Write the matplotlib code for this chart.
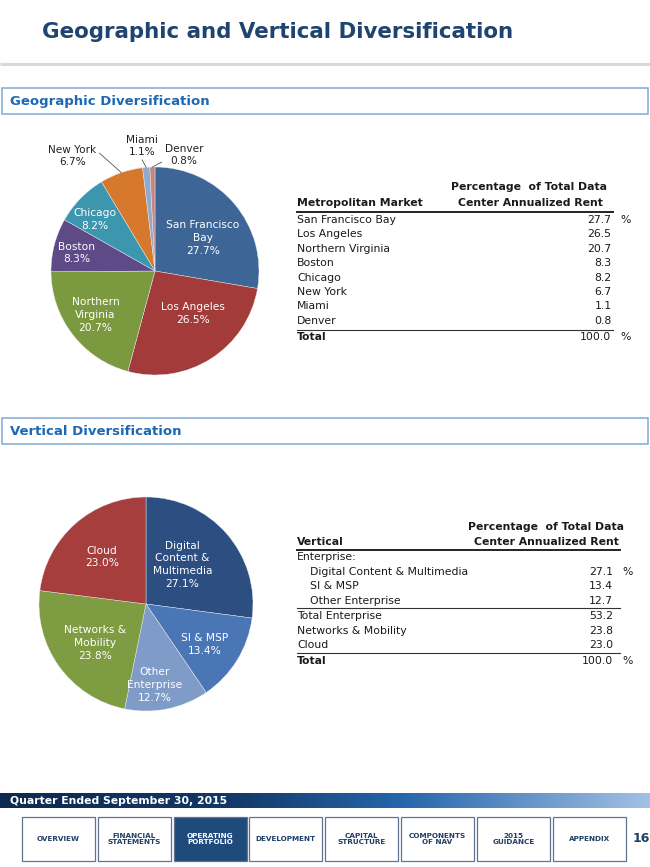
import numpy as np
import matplotlib
matplotlib.use("Agg")
import matplotlib.pyplot as plt
from matplotlib.patches import Rectangle
from matplotlib.colors import LinearSegmentedColormap

# Geographic split (% of total data center annualized rent)
markets = ["San Francisco Bay", "Los Angeles", "Northern Virginia", "Boston",
           "Chicago", "New York", "Miami", "Denver"]
market_pct = [27.7, 26.5, 20.7, 8.3, 8.2, 6.7, 1.1, 0.8]
market_total = 100.0
market_pie_labels = ["San Francisco\nBay", "Los Angeles", "Northern\nVirginia", "Boston",
                     "Chicago", "New York", "Miami", "Denver"]

# Vertical split
verticals = ["Digital Content & Multimedia", "SI & MSP", "Other Enterprise",
             "Networks & Mobility", "Cloud"]
vertical_pct = [27.1, 13.4, 12.7, 23.8, 23.0]
vertical_pie_labels = ["Digital\nContent &\nMultimedia", "SI & MSP", "Other\nEnterprise",
                       "Networks &\nMobility", "Cloud"]
enterprise_total = 53.2
vertical_total = 100.0

nav_items = ["OVERVIEW", "FINANCIAL\nSTATEMENTS", "OPERATING\nPORTFOLIO", "DEVELOPMENT",
             "CAPITAL\nSTRUCTURE", "COMPONENTS\nOF NAV", "2015\nGUIDANCE", "APPENDIX"]

W, H = 650, 867
NAVY = "#1F4470"
SECTION_BLUE = "#1C68B5"
TXT = "#1A1A1A"

fig = plt.figure(figsize=(W / 100, H / 100), dpi=100)
bg = fig.add_axes([0, 0, 1, 1])
bg.axis("off")


def draw_pie(cx, cy, r, values, labels, colors, label_r, label_da, outside=None):
    # pie placed by pixel centre / radius, labels placed off the wedge angles
    outside = outside or {}
    half = 1.5 * r
    ax = fig.add_axes([(cx - half) / W, (H - cy - half) / H, 2 * half / W, 2 * half / H])
    wedges, _ = ax.pie(values, colors=colors, startangle=90, counterclock=False,
                       wedgeprops=dict(edgecolor="#E8ECF2", linewidth=0.3))
    ax.set_xlim(-1.5, 1.5)
    ax.set_ylim(-1.5, 1.5)
    ax.set_aspect("equal")
    ax.axis("off")
    ax.patch.set_visible(False)
    for i, (w, lab, v) in enumerate(zip(wedges, labels, values)):
        mid = np.deg2rad((w.theta1 + w.theta2) / 2)
        ang = mid + np.deg2rad(label_da[i])
        tx, ty = label_r[i] * np.cos(ang), label_r[i] * np.sin(ang)
        txt = f"{lab}\n{v:.1f}%"
        if i in outside:
            ax.annotate(txt, xy=(np.cos(mid), np.sin(mid)), xytext=(tx, ty),
                        ha="center", va="center", fontsize=7.6, color="#222222",
                        linespacing=1.3,
                        arrowprops=dict(arrowstyle="-", color="#555555", lw=0.6,
                                        relpos=outside[i], shrinkA=0, shrinkB=0))
        else:
            ax.text(tx, ty, txt, ha="center", va="center", color="white",
                    fontsize=7.7, linespacing=1.35)
    return ax


# ---- header ----
bg.text(42, 32, "Geographic and Vertical Diversification", fontsize=15.4,
        fontweight="bold", color=NAVY, va="center")
bg.plot([0, W], [64, 64], color="#D9D9D9", lw=2.2, solid_capstyle="butt")

for top, title in [(88, "Geographic Diversification"), (418, "Vertical Diversification")]:
    bg.add_patch(Rectangle((2, top), 646, 26, facecolor="white", edgecolor="#7FA9D4", lw=1.1))
    bg.text(10, top + 13.5, title, fontsize=9.5, fontweight="bold", color=SECTION_BLUE, va="center")

# ---- geographic pie ----
geo_colors = ["#3D6596", "#A33B3A", "#7B9A3F", "#5D4A86", "#3B96AE", "#D7792C", "#93A8CD", "#C48884"]
draw_pie(155, 271, 104, market_pct, market_pie_labels, geo_colors,
         label_r=[0.56, 0.55, 0.71, 0.77, 0.76, 1.36, 1.21, 1.15],
         label_da=[-5.6, 9.5, -1.3, 1.6, 3.8, 16.8, 1.0, -15.4],
         outside={5: (1.0, 0.75), 6: (0.45, 0.0), 7: (0.0, 0.25)})

# ---- vertical pie ----
vert_colors = ["#2C4E80", "#4A76B6", "#7F9CC8", "#7E9C41", "#A53E3D"]
draw_pie(146, 604, 107, vertical_pct, vertical_pie_labels, vert_colors,
         label_r=[0.5, 0.67, 0.76, 0.6, 0.6],
         label_da=[5.8, -3.1, -5.0, 1.8, 1.6])

FS = 7.8


def cell(x, y, s, **kw):
    bg.text(x, y, s, fontsize=FS, color=TXT, va="center", **kw)


# ---- geographic table ----
cell(529, 187, "Percentage  of Total Data", ha="center", fontweight="bold")
cell(530, 203, "Center Annualized Rent", ha="center", fontweight="bold")
cell(297, 203, "Metropolitan Market", fontweight="bold")
bg.plot([297, 613], [212, 212], color="#222222", lw=1.4)
for i, (m, v) in enumerate(zip(markets, market_pct)):
    y = 220 + 14.4 * i
    cell(297, y, m)
    cell(611.5, y, f"{v:.1f}", ha="right")
    if i == 0:
        cell(620, y, "%")
bg.plot([297, 613], [329.5, 329.5], color="#333333", lw=0.8)
cell(297, 337, "Total", fontweight="bold")
cell(611.5, 337, f"{market_total:.1f}", ha="right")
cell(620, 337, "%")

# ---- vertical table ----
cell(546, 527, "Percentage  of Total Data", ha="center", fontweight="bold")
cell(546, 542, "Center Annualized Rent", ha="center", fontweight="bold")
cell(297, 542, "Vertical", fontweight="bold")
bg.plot([297, 620], [549.5, 549.5], color="#222222", lw=1.4)
cell(297, 557, "Enterprise:")
for i in range(3):
    y = 571.7 + 14.5 * i
    cell(310, y, verticals[i])
    cell(613, y, f"{vertical_pct[i]:.1f}", ha="right")
    if i == 0:
        cell(622, y, "%")
bg.plot([297, 620], [608, 608], color="#333333", lw=0.8)
cell(297, 616, "Total Enterprise")
cell(613, 616, f"{enterprise_total:.1f}", ha="right")
for i in range(3, 5):
    y = 630.5 + 14.5 * (i - 3)
    cell(297, y, verticals[i])
    cell(613, y, f"{vertical_pct[i]:.1f}", ha="right")
bg.plot([297, 620], [652.5, 652.5], color="#333333", lw=0.8)
cell(297, 661, "Total", fontweight="bold")
cell(613, 661, f"{vertical_total:.1f}", ha="right")
cell(622, 661, "%")

# ---- footer ----
band = LinearSegmentedColormap.from_list(
    "band", [(0, "#0E2A4F"), (0.35, "#123866"), (0.62, "#2566AB"), (1, "#A3C0E4")])
bg.imshow(np.linspace(0, 1, 256)[None, :], extent=[0, W, 808, 793], aspect="auto",
          cmap=band, zorder=1)
bg.text(10, 800.5, "Quarter Ended September 30, 2015", fontsize=7.8, fontweight="bold",
        color="white", va="center", zorder=2)

for i, item in enumerate(nav_items):
    x0 = 22 + 75.8 * i
    active = item.startswith("OPERATING")
    bg.add_patch(Rectangle((x0, 817), 73, 44, facecolor="#1F4B7C" if active else "white",
                           edgecolor="#5F7490", lw=0.9))
    bg.text(x0 + 36.5, 839, item, fontsize=5.2, fontweight="bold", ha="center", va="center",
            color="white" if active else "#1F3F66", linespacing=1.15)
bg.text(641, 838, "16", fontsize=9, fontweight="bold", color="#1F3F66", ha="center", va="center")

bg.set_xlim(0, W)
bg.set_ylim(H, 0)

fig.savefig("out.png", dpi=100)
